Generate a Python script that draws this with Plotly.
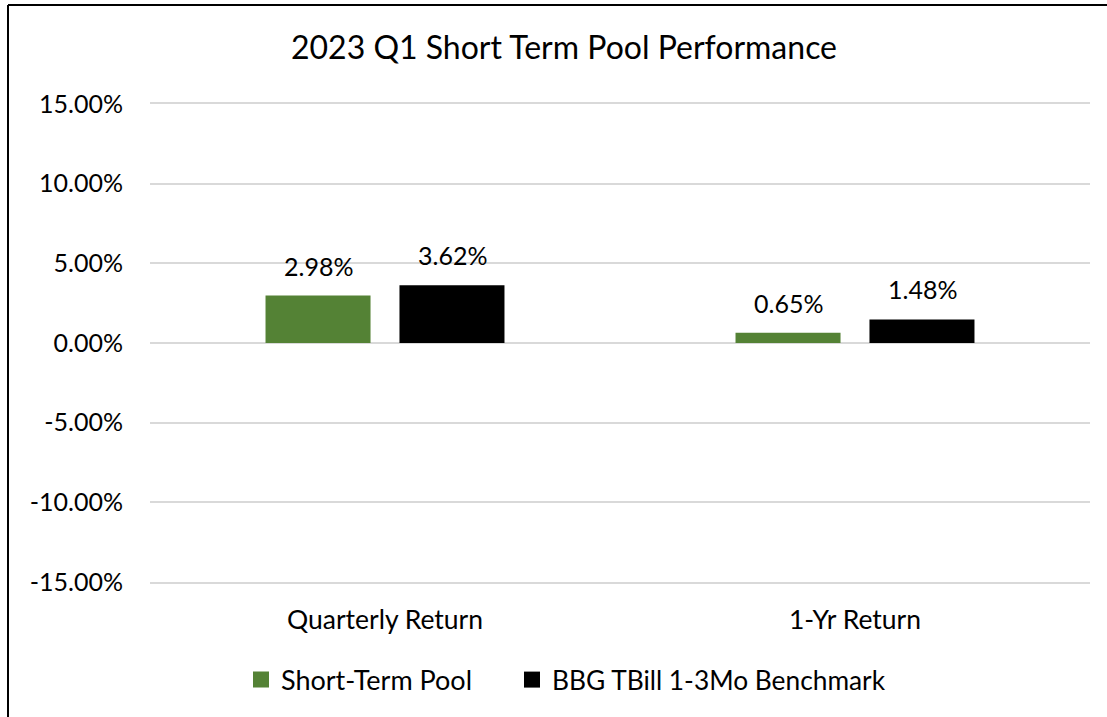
import plotly.graph_objects as go

categories = ["Quarterly Return", "1-Yr Return"]
pool_values = [2.98, 0.65]
bench_values = [3.62, 1.48]
series_names = ["Short-Term Pool", "BBG TBill 1-3Mo Benchmark"]
series_colors = ["#548235", "#000000"]
tick_values = [-15, -10, -5, 0, 5, 10, 15]
tick_labels = ["-15.00%", "-10.00%", "-5.00%", "0.00%", "5.00%", "10.00%", "15.00%"]

W, H = 1107, 717
ML, MR, MT, MB = 150, 17, 104, 135
FONT = "Lato, Open Sans, sans-serif"

pw = W - ML - MR
ph = H - MT - MB

fig = go.Figure()
annotations = []
legend_ids = ["legend", "legend2"]
for i, (name, vals, color) in enumerate(zip(series_names, [pool_values, bench_values], series_colors)):
    fig.add_trace(go.Bar(
        x=categories, y=vals, name=name, showlegend=False,
        marker=dict(color=color, line=dict(width=0)),
        hoverinfo="x+y+name",
    ))
    # legend proxy (square marker)
    fig.add_trace(go.Scatter(
        x=[None], y=[None], mode="markers", name=name, legend=legend_ids[i],
        marker=dict(symbol="square", size=16, color=color, line=dict(width=0)),
    ))
    for cat, v in zip(categories, vals):
        annotations.append(dict(
            x=cat, y=v, xref="x", yref="y", text=f"{v:.2f}%", showarrow=False,
            xanchor="center", yanchor="bottom", xshift=(-67 if i == 0 else 67), yshift=13,
            font=dict(size=25, color="#000000", family=FONT),
        ))

x_left = (8 - ML) / pw
y_top = (H - MB - 5) / ph
leg_y = -(680 - (H - MB)) / ph

def legend_box(px, size):
    return dict(orientation="h", x=(px - ML) / pw, xanchor="left", y=leg_y,
                yanchor="middle", font=dict(size=size, family=FONT, color="#000000"),
                itemwidth=30, itemsizing="trace", bgcolor="rgba(0,0,0,0)")

fig.update_layout(
    width=W, height=H,
    margin=dict(l=ML, r=MR, t=MT, b=MB, autoexpand=False),
    paper_bgcolor="white", plot_bgcolor="white",
    font=dict(family=FONT, size=25, color="#000000"),
    title=dict(text="2023 Q1 Short Term Pool Performance", x=564 / W, xanchor="center",
               y=1 - 48 / H, yanchor="middle", font=dict(size=32, family=FONT, color="#000000")),
    barmode="group", bargap=0.43, bargroupgap=0.216,
    showlegend=True,
    legend=legend_box(241, 27),
    legend2=legend_box(512, 26.3),
    xaxis=dict(showline=True, mirror=True, linecolor="#d9d9d9", linewidth=2,
               showgrid=False, zeroline=False, ticks="",
               tickfont=dict(size=26.5, family=FONT), ticklabelstandoff=13),
    yaxis=dict(range=[-15, 15], tickvals=tick_values, ticktext=tick_labels,
               showgrid=True, gridcolor="#d9d9d9", gridwidth=2,
               zeroline=True, zerolinecolor="#d9d9d9", zerolinewidth=2,
               showline=False, ticks="", tickfont=dict(size=25, family=FONT),
               ticklabelstandoff=26),
    annotations=annotations,
    shapes=[
        dict(type="line", xref="paper", yref="paper", x0=x_left, x1=x_left,
             y0=-0.5, y1=y_top, line=dict(color="#000000", width=2)),
        dict(type="line", xref="paper", yref="paper", x0=x_left, x1=1.5,
             y0=y_top, y1=y_top, line=dict(color="#000000", width=2)),
    ],
)

fig.write_html("out.html", config={"displayModeBar": False},
               post_script="document.body.style.margin='0';")
